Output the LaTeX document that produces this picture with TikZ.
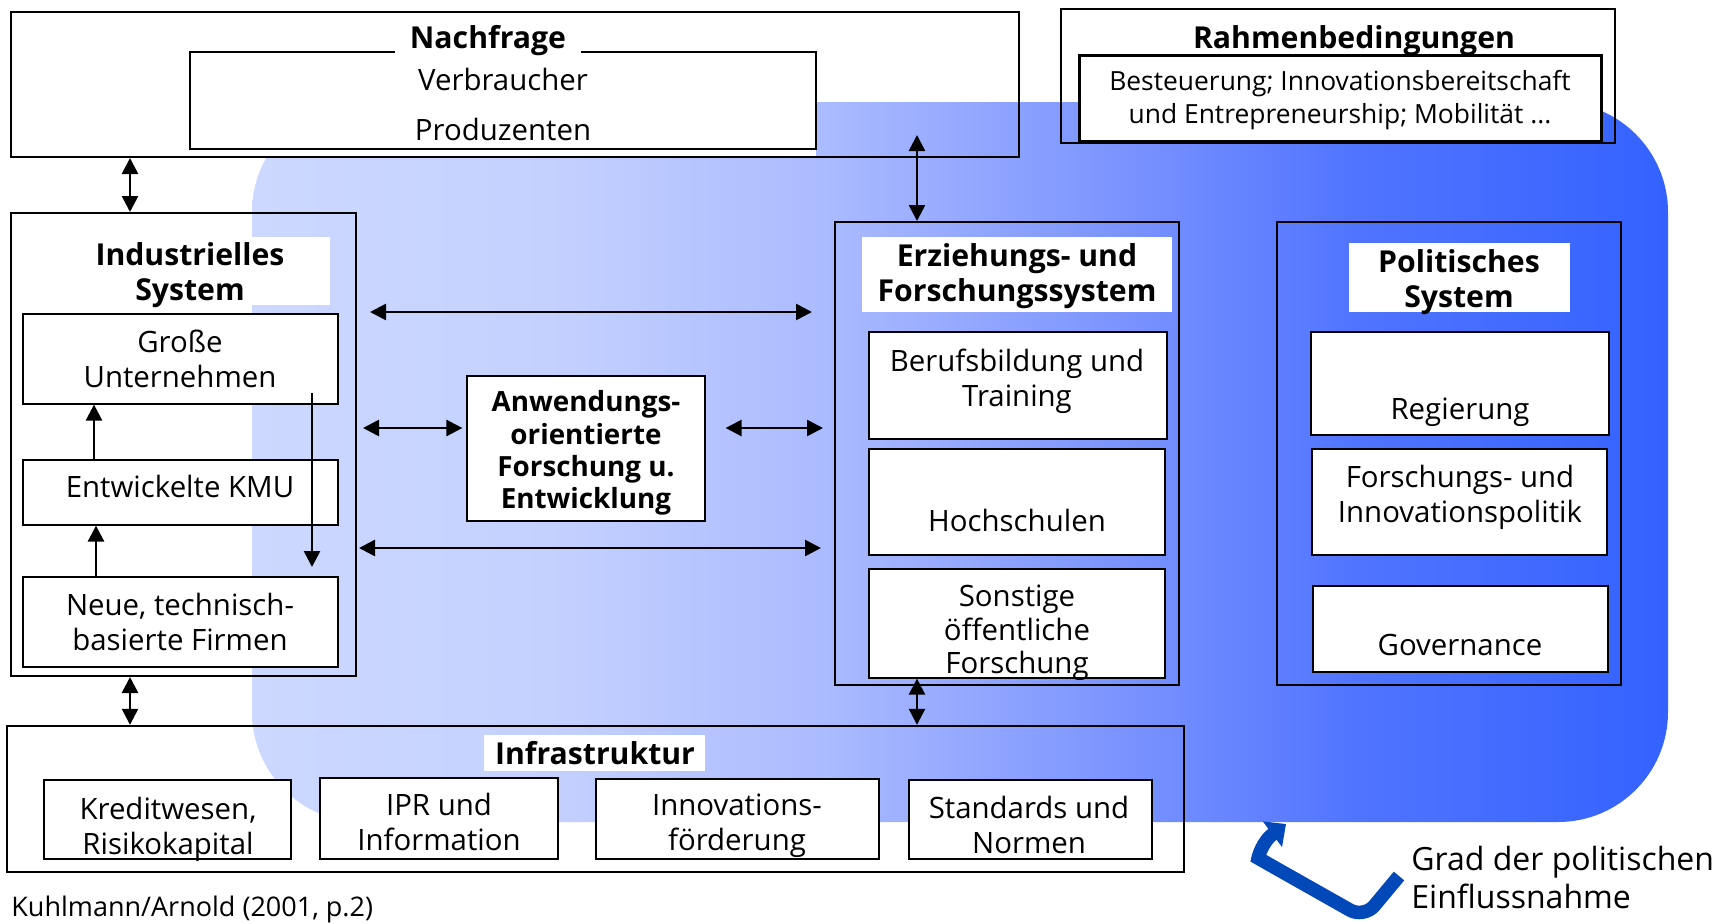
\documentclass[tikz,border=0pt]{standalone}
\usepackage{fontspec}
\setmainfont{Open Sans}
\usetikzlibrary{fit,arrows.meta}
\definecolor{gA}{RGB}{204,216,255}
\definecolor{gB}{RGB}{196,209,255}
\definecolor{gC}{RGB}{170,186,255}
\definecolor{gD}{RGB}{126,150,255}
\definecolor{gE}{RGB}{80,116,255}
\definecolor{gF}{RGB}{52,98,255}
\definecolor{dblue}{RGB}{2,72,184}
\pgfdeclarehorizontalshading{bluegrad}{100bp}{color(0bp)=(gA); color(25bp)=(gA); color(35.5bp)=(gB); color(45.5bp)=(gC); color(55bp)=(gD); color(64bp)=(gE); color(75bp)=(gF); color(100bp)=(gF)}
\tikzset{
  obox/.style={draw, line width=1pt, inner sep=0pt},
  thinbox/.style={draw, line width=0.6pt, inner sep=0pt},
  ibox/.style={draw, fill=white, line width=0.6pt, inner sep=0pt},
  wbg/.style={fill=white, inner sep=0pt},
  txt/.style={font=\fontsize{14.7}{17.5}\selectfont, align=center, inner sep=0pt},
  btxt/.style={font=\fontsize{15.1}{17.5}\selectfont\bfseries, align=center, inner sep=0pt},
  arr/.style={line width=1.3pt, {Triangle[length=8pt,width=8pt]}-{Triangle[length=8pt,width=8pt]}},
  uarr/.style={line width=1.3pt, -{Triangle[length=8pt,width=8pt]}},
}
\begin{document}
\begin{tikzpicture}[x=0.5pt,y=-0.5pt]
\useasboundingbox (0,0) rectangle (1730,923);
% blue background region
\shade[shading=bluegrad, rounded corners=55pt] (252,102) rectangle (1668,822);
\fill[white] (11,12) rectangle (816,157);
% Nachfrage
\node[obox, fit={(11,12) (1019,157)}] (nach) {};
\node[ibox, fit={(190,52) (816,149)}] (nachi) {};
\node[btxt, fill=white, inner xsep=7.5pt, inner ysep=2pt] (nachl) at (488,41) {Nachfrage};
\node[txt] (verb) at (503,79) {Verbraucher};
\node[txt] (prod) at (503,129) {Produzenten};
% Rahmenbedingungen
\node[thinbox, fit={(1061,9) (1615,143)}] (rahm) {};
\node[btxt] (rahml) at (1354,41) {Rahmenbedingungen};
\node[ibox, line width=1.5pt, fit={(1079,55) (1601,141)}] (rahmi) {};
\node[txt, font=\fontsize{13.2}{16.4}\selectfont] (rahmt) at (1340,100) {Besteuerung; Innovationsbereitschaft\\und Entrepreneurship; Mobilität ...};
% Industrielles System
\node[obox, fit={(11,213) (356,676)}] (ind) {};
\node[wbg, fit={(50,237) (330,305)}] (indl) {};
\node[btxt] (indt) at (190,275) {Industrielles\\System};
\node[ibox, fit={(23,314) (338,404)}] (gross) {};
\node[txt] (grosst) at (180,359) {Große\\Unternehmen};
\node[ibox, fit={(23,460) (338,525)}] (kmu) {};
\node[txt] (kmut) at (180,486) {Entwickelte KMU};
\node[ibox, fit={(23,577) (338,667)}] (neue) {};
\node[txt] (neuet) at (180,622) {Neue, technisch-\\basierte Firmen};
% Anwendungsorientierte F&E
\node[ibox, fit={(467,376) (705,521)}] (aw) {};
\node[btxt, font=\fontsize{13.9}{16.2}\selectfont\bfseries] (awt) at (586,453) {Anwendungs-\\orientierte\\Forschung u.\\Entwicklung};
% Erziehungs- und Forschungssystem
\node[obox, fit={(835,222) (1179,685)}] (ezs) {};
\node[wbg, fit={(862,237) (1172,312)}] (ezsl) {};
\node[btxt] (ezst) at (1017,276) {Erziehungs- und\\Forschungssystem};
\node[ibox, fit={(869,332) (1167,439)}] (beruf) {};
\node[txt] (beruft) at (1017,381) {Berufsbildung und\\Training};
\node[ibox, fit={(869,449) (1165,555)}] (hoch) {};
\node[txt] (hocht) at (1017,520) {Hochschulen};
\node[ibox, fit={(869,569) (1165,678)}] (sonst) {};
\node[txt, font=\fontsize{14.7}{16.8}\selectfont] (sonstt) at (1017,633) {Sonstige\\öffentliche\\Forschung};
% Politisches System
\node[obox, fit={(1277,222) (1621,685)}] (pol) {};
\node[wbg, fit={(1349,243) (1570,312)}] (poll) {};
\node[btxt] (polt) at (1459,282) {Politisches\\System};
\node[ibox, fit={(1311,332) (1609,435)}] (reg) {};
\node[txt] (regt) at (1460,412) {Regierung};
\node[ibox, fit={(1312,449) (1607,555)}] (fip) {};
\node[txt] (fipt) at (1460,497) {Forschungs- und\\Innovationspolitik};
\node[ibox, fit={(1313,586) (1608,672)}] (gov) {};
\node[txt] (govt) at (1460,645) {Governance};
% Infrastruktur
\node[obox, line width=1.2pt, fit={(7,726) (1184,872)}] (infra) {};
\node[wbg, fit={(484,735) (705,771)}] (infral) {};
\node[btxt] (infrat) at (595,753) {Infrastruktur};
\node[ibox, fit={(44,780) (291,859)}] (kred) {};
\node[txt] (kredt) at (168,829) {Kreditwesen,\\Risikokapital};
\node[ibox, fit={(320,778) (558,859)}] (ipr) {};
\node[txt] (iprt) at (439,822) {IPR und\\Information};
\node[ibox, fit={(596,779) (879,859)}] (innov) {};
\node[txt] (innovt) at (737,826) {Innovations-\\förderung};
\node[ibox, fit={(909,780) (1152,859)}] (stand) {};
\node[txt] (standt) at (1029,825) {Standards und\\Normen};
% texts outside
\node[txt, anchor=west, font=\fontsize{13.5}{15}\selectfont] (src) at (11,909) {Kuhlmann/Arnold (2001, p.2)};
\node[txt, anchor=west, align=left, font=\fontsize{16}{19}\selectfont] (grad) at (1411,877) {Grad der politischen\\Einflussnahme};
% connectors
\coordinate (xa) at (130,0);
\coordinate (xb) at (917,0);
\coordinate (nt) at (917,135);
\coordinate (ym) at (0,428);
\coordinate (yt) at (0,312);
\coordinate (yb) at (0,548);
\draw[arr] (xa |- nach.south) -- (xa |- ind.north);
\draw[arr] (xa |- ind.south) -- (xa |- infra.north);
\draw[arr] (nt) -- (xb |- ezs.north);
\draw[arr] (xb |- sonst.south) -- (xb |- infra.north);
\draw[arr, shorten <=6.5pt, shorten >=11pt] (ind.east |- yt) -- (ezs.west |- yt);
\draw[arr, shorten <=1pt, shorten >=6.5pt] (ind.east |- yb) -- (ezs.west |- yb);
\draw[arr, shorten <=3pt, shorten >=2pt] (ind.east |- ym) -- (aw.west |- ym);
\draw[arr, shorten <=10pt, shorten >=5.5pt] (aw.east |- ym) -- (ezs.west |- ym);
\coordinate (u1) at (94,0);
\coordinate (u2) at (96,0);
\coordinate (d1) at (312,393);
\coordinate (d2) at (312,567);
\draw[uarr] (u1 |- kmu.north) -- (u1 |- gross.south);
\draw[uarr] (u2 |- neue.north) -- (u2 |- kmu.south);
\draw[uarr] (d1) -- (d2);
% political influence arrow
\draw[line width=6.8pt, dblue, rounded corners=8pt, -{Triangle[length=8.5pt,width=15.5pt]}]
  (1399,876) -- (1364,918) -- (1272,866) .. controls (1258,858) and (1262,842) .. (1286,824);
\end{tikzpicture}
\end{document}
